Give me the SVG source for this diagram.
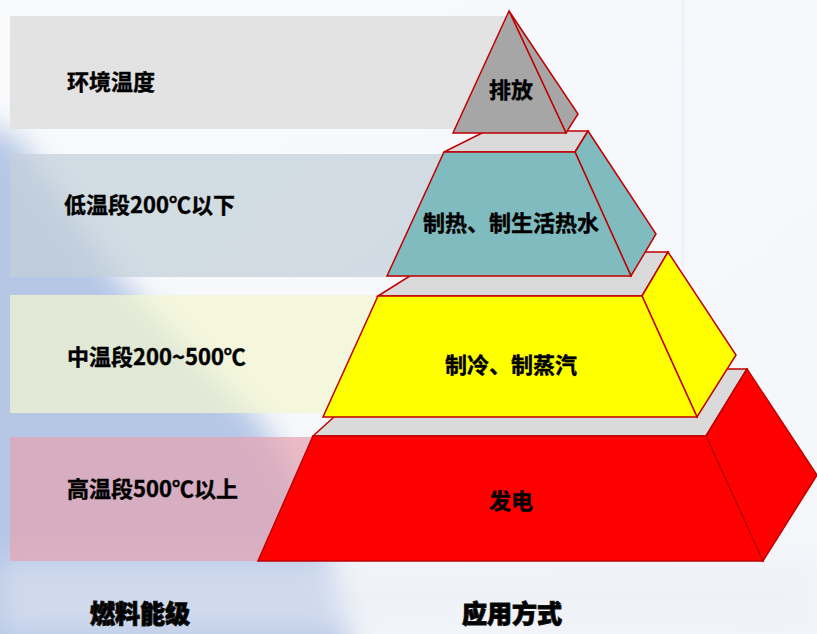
<svg xmlns="http://www.w3.org/2000/svg" width="817" height="634" viewBox="0 0 817 634">
  <defs>
    <filter id="blur" x="-30%" y="-30%" width="160%" height="160%">
      <feGaussianBlur stdDeviation="14"/>
    </filter>
    <linearGradient id="bg" x1="0" y1="0" x2="1" y2="1">
      <stop offset="0" stop-color="#f8fafc"/>
      <stop offset="1" stop-color="#f4f6fa"/>
    </linearGradient>
    <style>
      .lbl { font-family: "Noto Sans CJK SC", "Microsoft YaHei", sans-serif; font-weight: 700; font-size: 22px; fill: #000; stroke: #000; stroke-width: 0.4px; }
      .ttl { font-family: "Noto Sans CJK SC", "Microsoft YaHei", sans-serif; font-weight: 900; font-size: 25px; fill: #000; stroke: #111; stroke-width: 1px; text-anchor: middle; }
      .ctr { text-anchor: middle; }
      .face { stroke: #c00000; stroke-width: 1.5; stroke-linejoin: miter; }
      .top { fill: #dadada; }
      .gray { fill: #a6a6a6; }
      .teal { fill: #80bbbf; }
      .yel { fill: #ffff00; }
      .red { fill: #ff0000; }
    </style>
  </defs>

  <!-- background -->
  <rect x="0" y="0" width="817" height="634" fill="url(#bg)"/>
  <polygon points="-40,120 15,135 120,280 260,420 320,520 360,680 -40,680" fill="#b6c7e6" filter="url(#blur)"/>
  <rect x="0" y="560" width="817" height="74" fill="#e9edf4" opacity="0.5" filter="url(#blur)"/>
  <line x1="683" y1="0" x2="683" y2="285" stroke="#edf3fb" stroke-width="4" opacity="0.7"/>

  <!-- bands with energy-level labels -->
  <g id="band-ambient">
    <rect x="10" y="16" width="497" height="113" fill="#e3e3e3"/>
    <text class="lbl" x="67" y="90">环境温度</text>
  </g>
  <g id="band-low">
    <rect x="10" y="154" width="490" height="123" fill="#c4d0d9" opacity="0.72"/>
    <text class="lbl" x="64" y="213">低温段200℃以下</text>
  </g>
  <g id="band-mid">
    <rect x="10" y="295" width="400" height="118" fill="#f4f7cf" opacity="0.7"/>
    <text class="lbl" x="67" y="365">中温段200~500℃</text>
  </g>
  <g id="band-high">
    <rect x="10" y="437" width="400" height="124" fill="#e5a3b0" opacity="0.7"/>
    <text class="lbl" x="67" y="497">高温段500℃以上</text>
  </g>

  <!-- pyramid tiers (bottom to top) -->
  <g id="tier-power">
    <polygon class="face top" points="313,436 387,369 747,369 706,436"/>
    <polygon class="face red" points="706,436 747,369 817,475 763,561"/>
    <polygon class="face red" points="313,436 706,436 763,561 258,561"/>
    <text class="lbl ctr" x="511" y="509">发电</text>
  </g>
  <g id="tier-cooling">
    <polygon class="face top" points="378,296 448,252 668,252 642,296"/>
    <polygon class="face yel" points="642,296 668,252 736,355 697,417"/>
    <polygon class="face yel" points="378,296 642,296 697,417 323,417"/>
    <text class="lbl ctr" x="511" y="373">制冷、制蒸汽</text>
  </g>
  <g id="tier-heating">
    <polygon class="face top" points="444,152 486,131 588,131 575,152"/>
    <polygon class="face teal" points="575,152 588,131 656,234 631,276"/>
    <polygon class="face teal" points="444,152 575,152 631,276 387,276"/>
    <text class="lbl ctr" x="511" y="231">制热、制生活热水</text>
  </g>
  <g id="tier-exhaust">
    <polygon class="face gray" points="509,11 578,114 566,133"/>
    <polygon class="face gray" points="509,11 566,133 453,133"/>
    <text class="lbl ctr" x="511" y="98">排放</text>
  </g>

  <g id="connectors"/>

  <!-- column titles -->
  <g id="title-fuel">
    <text class="ttl" x="140" y="623">燃料能级</text>
  </g>
  <g id="title-use">
    <text class="ttl" x="512" y="623">应用方式</text>
  </g>
</svg>
